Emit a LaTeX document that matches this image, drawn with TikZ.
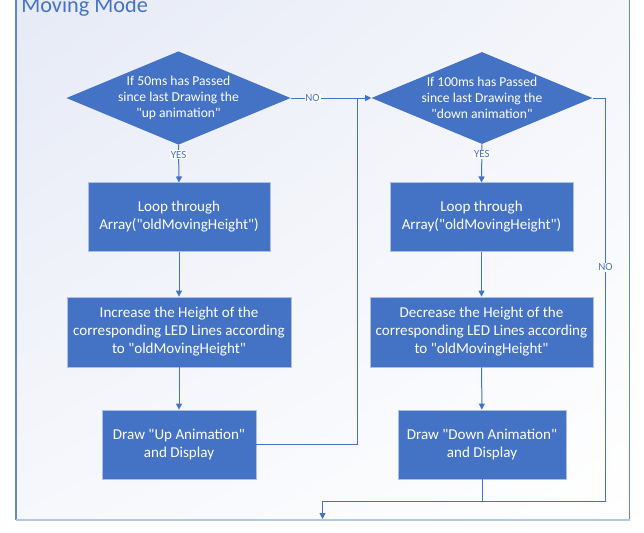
\documentclass[tikz,border=0pt]{standalone}
\usepackage{fontspec}
\setmainfont{Carlito}[Ligatures=TeXOff]
\usetikzlibrary{shapes.geometric,arrows.meta,shadings}
\definecolor{officeblue}{HTML}{4472C4}
\definecolor{paleblue}{HTML}{B4C7E7}
\definecolor{tintblue}{HTML}{E6EAF6}
\begin{document}
\begin{tikzpicture}[x=0.75pt,y=-0.75pt,
    box/.style={rectangle,fill=officeblue,draw=white!55!officeblue,line width=0.6pt,text=white,align=center,font=\fontsize{11.3}{13.5}\selectfont,inner sep=0pt},
    decision/.style={diamond,fill=officeblue,text=white,align=center,font=\fontsize{10.2}{11.8}\selectfont,inner sep=0pt,aspect=2.4,minimum width=165.75pt,minimum height=69pt},
    conn/.style={draw=officeblue,line width=0.75pt},
    arrow/.style={conn,-{Triangle[length=4.5pt,width=4.5pt]}},
    lbl/.style={fill=white,text=officeblue,font=\fontsize{8.2}{9}\selectfont,inner sep=0.6pt}]
        \useasboundingbox (0,0) rectangle (644,533);
        \shade[upper left=tintblue,upper right=tintblue!45!white,lower left=tintblue!35!white,lower right=white] (16,-10) rectangle (629.5,519.5);
        \draw[officeblue!85!white,line width=0.9pt] (16,-10) -- (16,519.5);
        \draw[officeblue!85!white,line width=0.9pt] (629.5,-10) -- (629.5,519.5);
        \draw[paleblue,line width=1.6pt] (15.5,520) -- (630,520);
        \node[anchor=base west,text=officeblue,font=\fontsize{16.7}{20}\selectfont,inner sep=0pt] (title) at (21,12) {Moving Mode};

        \node[decision] (dUp) at (178.5,98) {If 50ms has Passed\\since last Drawing the\\"up animation"};
        \node[box,minimum width=136.5pt,minimum height=51.2pt] (loopUp) at (179,217) {Loop through\\Array("oldMovingHeight")};
        \node[box,minimum width=168pt,minimum height=52.5pt] (incUp) at (179,332) {Increase the Height of the\\corresponding LED Lines according\\to "oldMovingHeight"};
        \node[box,minimum width=115.5pt,minimum height=51.75pt] (drawUp) at (179,444.5) {Draw "Up Animation"\\and Display};

        \node[decision] (dDown) at (482,98) {If 100ms has Passed\\since last Drawing the\\"down animation"};
        \node[box,minimum width=137.25pt,minimum height=51.2pt] (loopDown) at (481.5,217) {Loop through\\Array("oldMovingHeight")};
        \node[box,minimum width=167.25pt,minimum height=52.5pt] (decDown) at (481.5,332) {Decrease the Height of the\\corresponding LED Lines according\\to "oldMovingHeight"};
        \node[box,minimum width=126pt,minimum height=51.75pt] (drawDown) at (482,444.5) {Draw "Down Animation"\\and Display};

        \coordinate (join) at (357.5,98);
        \coordinate (turnR) at (605.5,501);
        \coordinate (merge) at (322.5,501);
        \coordinate (exit) at (322.5,519);

        \draw[arrow] (dUp.south) -- node[lbl,pos=0.26] {YES} (loopUp.north);
        \draw[arrow] (loopUp) -- (incUp);
        \draw[arrow] (incUp) -- (drawUp);
        \draw[arrow] (dUp.east) -- node[lbl,pos=0.27] {NO} (dDown.west);
        \draw[conn] (drawUp.east) -| (join);

        \draw[arrow] (dDown.south) -- node[lbl,pos=0.26] {YES} (loopDown.north);
        \draw[arrow] (loopDown) -- (decDown);
        \draw[arrow] (decDown) -- (drawDown);
        \draw[conn] (dDown.east) -| node[lbl,pos=0.71] {NO} (turnR) -- (merge);
        \draw[conn] (drawDown.south) -- (drawDown.south |- merge);
        \draw[arrow] (merge) -- (exit);
    \end{tikzpicture}
\end{document}
